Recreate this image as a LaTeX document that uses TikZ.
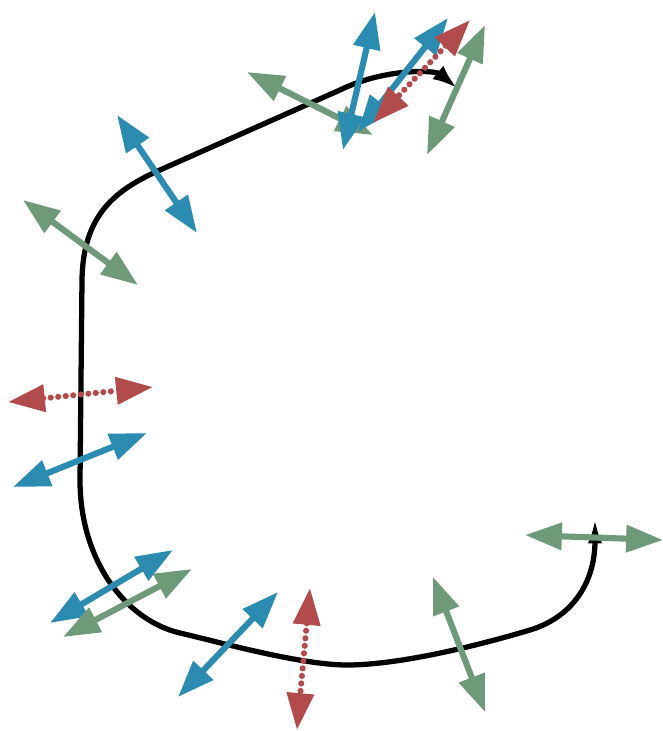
\documentclass[tikz,border=0pt]{standalone}
\usetikzlibrary{arrows.meta}
\definecolor{cblue}{HTML}{2B8BB0}
\definecolor{cgreen}{HTML}{6E9A7A}
\definecolor{cred}{HTML}{B24C4C}
\begin{document}
\begin{tikzpicture}[x=0.02cm,y=-0.02cm,
  curve/.style={line width=3pt, black, {Latex[length=14pt,width=10pt]}-{Latex[length=15pt,width=8pt]}},
  vec/.style={line width=3.5pt, {Triangle[length=21pt,width=15pt]}-{Triangle[length=21pt,width=15pt]}},
  bluevec/.style={vec, draw=cblue, fill=cblue},
  greenvec/.style={vec, draw=cgreen, fill=cgreen},
  redvec/.style={vec, draw=cred, fill=cred, line cap=round, dash pattern=on 0pt off 4.3pt}]
\useasboundingbox (0,0) rectangle (663,731);
% curve ends
\coordinate (cs) at (457,88);
\coordinate (ce) at (595,517);
\draw[curve] (cs) .. controls (435,70) and (385,68) .. (340,90)
  -- (160,170) .. controls (115,190) and (83,215) .. (82,280)
  -- (80,480) .. controls (80,560) and (125,620) .. (180,633)
  .. controls (215,641) and (300,665) .. (347,665)
  .. controls (400,665) and (480,645) .. (530,630)
  .. controls (570,618) and (595,585) .. (ce);
% vectors
\coordinate (a1) at (247,72);  \coordinate (a2) at (373,135);
\coordinate (b1) at (375,12);  \coordinate (b2) at (343,150);
\coordinate (c1) at (448,18);  \coordinate (c2) at (358,132);
\coordinate (d1) at (470,20);  \coordinate (d2) at (373,123);
\coordinate (e1) at (485,25);  \coordinate (e2) at (427,155);
\coordinate (f1) at (117,115); \coordinate (f2) at (197,233);
\coordinate (g1) at (23,200);  \coordinate (g2) at (138,285);
\coordinate (h1) at (8,402);   \coordinate (h2) at (153,387);
\coordinate (i1) at (13,487);  \coordinate (i2) at (147,433);
\coordinate (j1) at (50,623);  \coordinate (j2) at (173,550);
\coordinate (k1) at (63,637);  \coordinate (k2) at (192,569);
\coordinate (l1) at (178,697); \coordinate (l2) at (278,592);
\coordinate (m1) at (310,588); \coordinate (m2) at (297,730);
\coordinate (n1) at (433,577); \coordinate (n2) at (485,712);
\coordinate (o1) at (525,535); \coordinate (o2) at (663,540);
\draw[greenvec] (a1) -- (a2);
\draw[bluevec] (b1) -- (b2);
\draw[bluevec] (c1) -- (c2);
\draw[redvec] (d1) -- (d2);
\draw[greenvec] (e1) -- (e2);
\draw[bluevec] (f1) -- (f2);
\draw[greenvec] (g1) -- (g2);
\draw[redvec] (h1) -- (h2);
\draw[bluevec] (i1) -- (i2);
\draw[bluevec] (j1) -- (j2);
\draw[greenvec] (k1) -- (k2);
\draw[bluevec] (l1) -- (l2);
\draw[redvec] (m1) -- (m2);
\draw[greenvec] (n1) -- (n2);
\draw[greenvec] (o1) -- (o2);
\end{tikzpicture}
\end{document}
